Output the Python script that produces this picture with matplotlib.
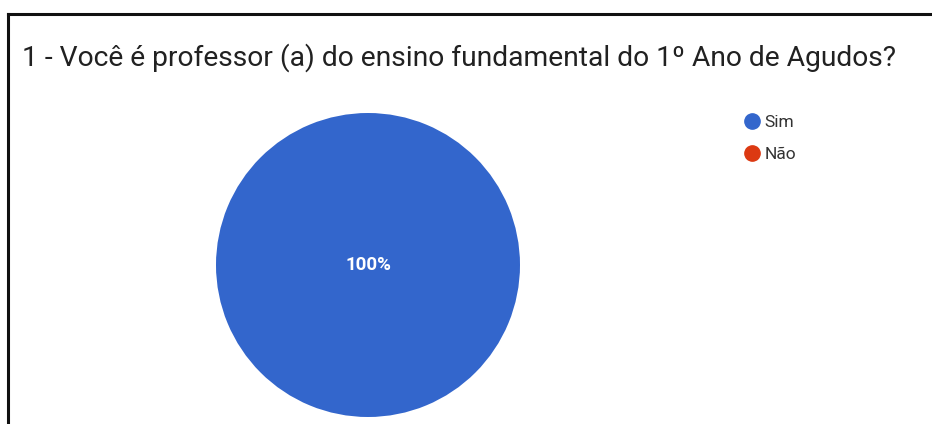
import matplotlib.pyplot as plt
from matplotlib.lines import Line2D

# Respostas da pergunta 1
categorias = ['Sim', 'Não']
respostas = [100, 0]
cores = ['#3366CC', '#DC3912']
titulo = '1 - Você é professor (a) do ensino fundamental do 1º Ano de Agudos?'

plt.rcParams['font.family'] = ['Roboto', 'DejaVu Sans']

W, H = 932, 424
fig = plt.figure(figsize=(W / 100, H / 100), dpi=100)
fig.patch.set_facecolor('white')

# moldura (apenas topo e esquerda visiveis)
fig.add_artist(Line2D([8 / W, 1.0], [1 - 13.5 / H, 1 - 13.5 / H], color='#111111', lw=2.2))
fig.add_artist(Line2D([8 / W, 8 / W], [0, 1 - 13.5 / H], color='#111111', lw=2.2))

fig.text(22 / W, 1 - 58 / H, titulo, fontsize=20.3, color='#212121', va='center', ha='left')

# pizza
cx, cy, r = 368, 265, 152
ax = fig.add_axes([(cx - r) / W, 1 - (cy + r) / H, 2 * r / W, 2 * r / H])
wedges, textos, pct = ax.pie(respostas, colors=cores, startangle=90, counterclock=False,
                             autopct=lambda p: f'{p:.0f}%' if p > 0 else '',
                             pctdistance=0.0, radius=1.0,
                             textprops={'color': 'white', 'fontsize': 13.5, 'fontweight': 'bold'})
ax.set_xlim(-1, 1)
ax.set_ylim(-1, 1)
ax.set_aspect('equal')
ax.axis('off')

# legenda
handles = [Line2D([], [], marker='o', linestyle='', markersize=11, markerfacecolor=c,
                  markeredgecolor=c) for c in cores]
fig.legend(handles, categorias, loc='upper left', bbox_to_anchor=(743 / W, 1 - 115 / H),
           frameon=False, fontsize=12.5, handletextpad=0.25, labelspacing=0.98,
           handlelength=1.0, borderaxespad=0, borderpad=0, labelcolor='#333333')

fig.savefig('out.png', dpi=100)
